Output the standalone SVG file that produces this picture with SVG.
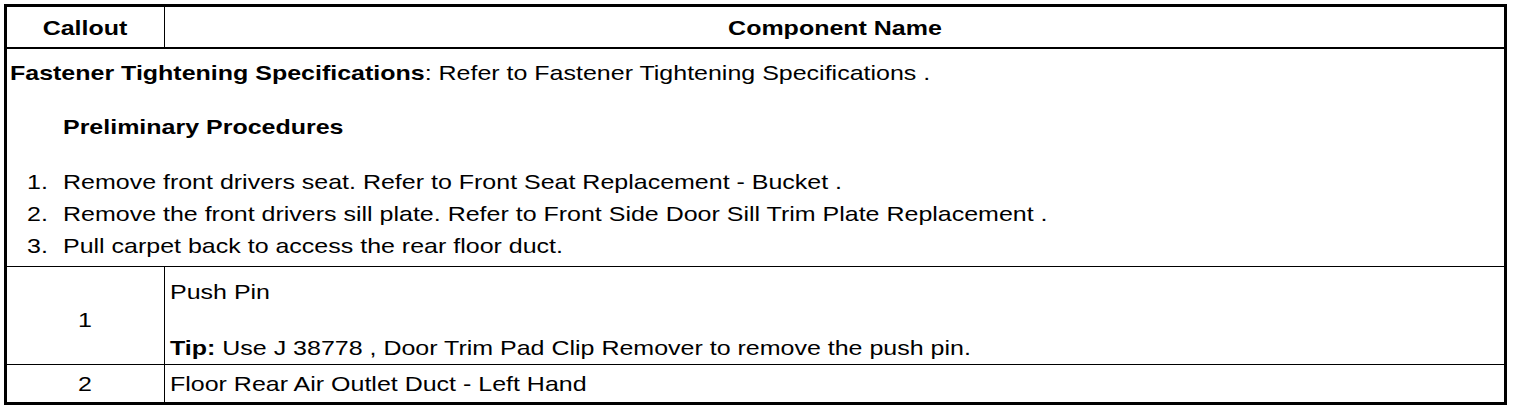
<svg xmlns="http://www.w3.org/2000/svg" width="1520" height="414" viewBox="0 0 1520 414">
<style>
.t{font-family:"Liberation Sans",Arial,Helvetica,sans-serif;font-size:21px;fill:#000}
.b{font-weight:bold}
.m{text-anchor:middle}
.ln{stroke:#000;fill:none}
</style>
<rect width="1520" height="414" fill="#fff"/>
<g id="connectors">
<rect class="ln" x="5.5" y="5.5" width="1500" height="398" stroke-width="3"/>
<line class="ln" x1="5.5" y1="48" x2="1505.5" y2="48" stroke-width="2"/>
<line class="ln" x1="164.5" y1="7" x2="164.5" y2="47" stroke-width="1"/>
<line class="ln" x1="5.5" y1="266.5" x2="1505.5" y2="266.5" stroke-width="1"/>
<line class="ln" x1="164.5" y1="266.5" x2="164.5" y2="403" stroke-width="1"/>
<line class="ln" x1="5.5" y1="364.5" x2="1505.5" y2="364.5" stroke-width="1"/>
</g>
<g transform="scale(1.19,1)">
<g id="header">
<text class="t b m" x="71.43" y="35.5">Callout</text>
<text class="t b m" x="701.68" y="35.5">Component Name</text>
</g>
<g id="procedures">
<text class="t" x="8.4" y="80.5"><tspan class="b">Fastener Tightening Specifications</tspan>: Refer to Fastener Tightening Specifications .</text>
<text class="t b" x="52.94" y="134.5">Preliminary Procedures</text>
<text class="t" x="22.69" y="189">1.</text>
<text class="t" x="52.94" y="189">Remove front drivers seat. Refer to Front Seat Replacement - Bucket .</text>
<text class="t" x="22.69" y="221">2.</text>
<text class="t" x="52.94" y="221">Remove the front drivers sill plate. Refer to Front Side Door Sill Trim Plate Replacement .</text>
<text class="t" x="22.69" y="253">3.</text>
<text class="t" x="52.94" y="253">Pull carpet back to access the rear floor duct.</text>
</g>
<g id="row1">
<text class="t m" x="71.43" y="327">1</text>
<text class="t" x="142.86" y="299">Push Pin</text>
<text class="t" x="142.86" y="355"><tspan class="b">Tip:</tspan> Use J 38778 , Door Trim Pad Clip Remover to remove the push pin.</text>
</g>
<g id="row2">
<text class="t m" x="71.43" y="391.5">2</text>
<text class="t" x="142.86" y="391.5">Floor Rear Air Outlet Duct - Left Hand</text>
</g>
</g>
</svg>
